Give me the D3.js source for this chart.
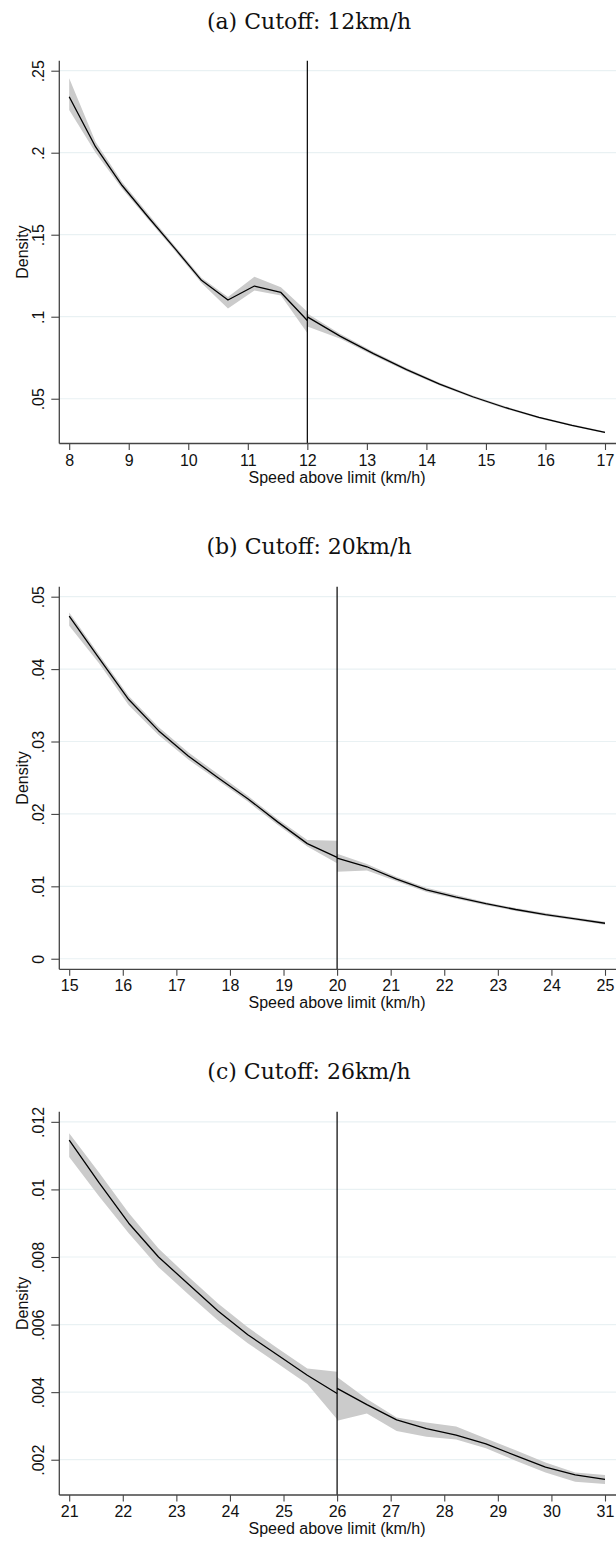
<!DOCTYPE html>
<html><head><meta charset="utf-8">
<script src="https://cdn.jsdelivr.net/npm/d3@7"></script>
<style>body{margin:0;background:#fff} svg{display:block}</style>
</head><body>
<svg id="chart" width="616" height="1541"></svg>
<script>
// ---------- DATA ----------
const titles = ["(a) Cutoff: 12km/h", "(b) Cutoff: 20km/h", "(c) Cutoff: 26km/h"];
const cutoffs = [12, 20, 26];
const xTitle = "Speed above limit (km/h)";
const yTitle = "Density";

// Panel (a)
const xTicksA = [8, 9, 10, 11, 12, 13, 14, 15, 16, 17];
const yTicksA = [0.05, 0.1, 0.15, 0.2, 0.25];
const yTickLabelsA = [".05", ".1", ".15", ".2", ".25"];
const yDomainA = [0.0227, 0.2561];
const xLeftA  = [8, 8.444, 8.889, 9.333, 9.778, 10.222, 10.667, 11.111, 11.556, 12];
const fitLeftA = [0.2341, 0.2035, 0.1800, 0.1605, 0.1415, 0.1222, 0.1102, 0.1187, 0.1148, 0.0977];
const loLeftA  = [0.2260, 0.2000, 0.1780, 0.1590, 0.1400, 0.1205, 0.1050, 0.1160, 0.1130, 0.0900];
const hiLeftA  = [0.2454, 0.2065, 0.1822, 0.1625, 0.1430, 0.1238, 0.1120, 0.1244, 0.1180, 0.1030];
const xRightA  = [12, 12.556, 13.111, 13.667, 14.222, 14.778, 15.333, 15.889, 16.444, 17];
const fitRightA = [0.0999, 0.0880, 0.0775, 0.0677, 0.0589, 0.0512, 0.0445, 0.0386, 0.0338, 0.0295];
const loRightA  = [0.0940, 0.0866, 0.0763, 0.0667, 0.0580, 0.0504, 0.0438, 0.0380, 0.0332, 0.0290];
const hiRightA  = [0.1020, 0.0894, 0.0787, 0.0687, 0.0598, 0.0520, 0.0452, 0.0392, 0.0344, 0.0300];

// Panel (b)
const xTicksB = [15, 16, 17, 18, 19, 20, 21, 22, 23, 24, 25];
const yTicksB = [0, 0.01, 0.02, 0.03, 0.04, 0.05];
const yTickLabelsB = ["0", ".01", ".02", ".03", ".04", ".05"];
const yDomainB = [-0.00146, 0.05138];
const xLeftB  = [15, 15.556, 16.111, 16.667, 17.222, 17.778, 18.333, 18.889, 19.444, 20];
const fitLeftB = [0.0473, 0.0415, 0.0358, 0.0315, 0.0280, 0.0250, 0.0221, 0.0189, 0.0159, 0.0140];
const loLeftB  = [0.0460, 0.0408, 0.0350, 0.0309, 0.0275, 0.0246, 0.0217, 0.0185, 0.0155, 0.0132];
const hiLeftB  = [0.0478, 0.0420, 0.0363, 0.0320, 0.0285, 0.0255, 0.0225, 0.0193, 0.0164, 0.0163];
const xRightB  = [20, 20.556, 21.111, 21.667, 22.222, 22.778, 23.333, 23.889, 24.444, 25];
const fitRightB = [0.0139, 0.0127, 0.0110, 0.0095, 0.0085, 0.0076, 0.0068, 0.0061, 0.0055, 0.0049];
const loRightB  = [0.0120, 0.0122, 0.0107, 0.0092, 0.0083, 0.0074, 0.0066, 0.0059, 0.0053, 0.0047];
const hiRightB  = [0.0145, 0.0131, 0.0113, 0.0098, 0.0088, 0.0078, 0.0070, 0.0063, 0.0057, 0.0051];

// Panel (c)
const xTicksC = [21, 22, 23, 24, 25, 26, 27, 28, 29, 30, 31];
const yTicksC = [0.002, 0.004, 0.006, 0.008, 0.01, 0.012];
const yTickLabelsC = [".002", ".004", ".006", ".008", ".01", ".012"];
const yDomainC = [0.000956, 0.0123];
const xLeftC  = [21, 21.556, 22.111, 22.667, 23.222, 23.778, 24.333, 24.889, 25.444, 26];
const fitLeftC = [0.01146, 0.01020, 0.00900, 0.00800, 0.00720, 0.00640, 0.00570, 0.00510, 0.00450, 0.00396];
const loLeftC  = [0.01096, 0.00980, 0.00870, 0.00770, 0.00690, 0.00612, 0.00545, 0.00485, 0.00424, 0.00320];
const hiLeftC  = [0.01166, 0.01050, 0.00930, 0.00825, 0.00742, 0.00662, 0.00592, 0.00530, 0.00470, 0.00460];
const xRightC  = [26, 26.556, 27.111, 27.667, 28.222, 28.778, 29.333, 29.889, 30.444, 31];
const fitRightC = [0.00411, 0.00363, 0.00318, 0.00292, 0.00273, 0.00247, 0.00212, 0.00178, 0.00155, 0.00142];
const loRightC  = [0.00315, 0.00337, 0.00285, 0.00268, 0.00260, 0.00234, 0.00197, 0.00162, 0.00135, 0.00128];
const hiRightC  = [0.00445, 0.00380, 0.00325, 0.00310, 0.00298, 0.00263, 0.00228, 0.00192, 0.00162, 0.00155];

// ---------- LAYOUT ----------
const W = 616;
const axisX = 59.3;
const xRange = [69.2, 605];
const layouts = [
  {top: 60.7, bottom: 443.5, titleY: 29},
  {top: 586.7, bottom: 969.3, titleY: 554},
  {top: 1111.7, bottom: 1495, titleY: 1078.5}
];

function zip(xs, f, lo, hi) { return xs.map((x, i) => ({x, f: f[i], lo: lo[i], hi: hi[i]})); }

const panels = [
  {title: titles[0], cutoff: cutoffs[0], xTicks: xTicksA, yTicks: yTicksA, yLabels: yTickLabelsA, yDomain: yDomainA,
   left: zip(xLeftA, fitLeftA, loLeftA, hiLeftA), right: zip(xRightA, fitRightA, loRightA, hiRightA)},
  {title: titles[1], cutoff: cutoffs[1], xTicks: xTicksB, yTicks: yTicksB, yLabels: yTickLabelsB, yDomain: yDomainB,
   left: zip(xLeftB, fitLeftB, loLeftB, hiLeftB), right: zip(xRightB, fitRightB, loRightB, hiRightB)},
  {title: titles[2], cutoff: cutoffs[2], xTicks: xTicksC, yTicks: yTicksC, yLabels: yTickLabelsC, yDomain: yDomainC,
   left: zip(xLeftC, fitLeftC, loLeftC, hiLeftC), right: zip(xRightC, fitRightC, loRightC, hiRightC)}
];

const svg = d3.select("#chart");
const sans = "'Liberation Sans', Arial, sans-serif";
const fs = 16;

panels.forEach((p, i) => {
  const L = layouts[i];
  const g = svg.append("g");
  const x = d3.scaleLinear().domain([p.xTicks[0], p.xTicks[p.xTicks.length - 1]]).range(xRange);
  const y = d3.scaleLinear().domain(p.yDomain).range([L.bottom, L.top]);

  // title
  g.append("text").attr("x", 309).attr("y", L.titleY).attr("text-anchor", "middle")
    .attr("font-family", "'DejaVu Serif', serif").attr("font-size", 22).attr("fill", "#111")
    .text(p.title);

  // gridlines
  g.selectAll("line.grid").data(p.yTicks).join("line").attr("class", "grid")
    .attr("x1", axisX).attr("x2", W).attr("y1", d => y(d)).attr("y2", d => y(d))
    .attr("stroke", "#e9f1f3").attr("stroke-width", 1.2);

  // CI bands
  const area = d3.area().x(d => x(d.x)).y0(d => y(d.lo)).y1(d => y(d.hi));
  [p.left, p.right].forEach(seg => {
    g.append("path").datum(seg).attr("d", area).attr("fill", "#cbcbcb").attr("stroke", "none");
  });

  // cutoff line
  g.append("line").attr("x1", x(p.cutoff)).attr("x2", x(p.cutoff))
    .attr("y1", L.top).attr("y2", L.bottom).attr("stroke", "#000").attr("stroke-width", 1.2);

  // fitted lines
  const line = d3.line().x(d => x(d.x)).y(d => y(d.f));
  [p.left, p.right].forEach(seg => {
    g.append("path").datum(seg).attr("d", line).attr("fill", "none")
      .attr("stroke", "#000").attr("stroke-width", 1.3).attr("stroke-linejoin", "round");
  });

  // y axis
  const yAxis = d3.axisLeft(y).tickValues(p.yTicks)
    .tickFormat((d, k) => p.yLabels[k]).tickSize(8).tickSizeOuter(0);
  const ya = g.append("g").attr("transform", `translate(${axisX},0)`).call(yAxis);
  ya.select(".domain").remove();
  ya.selectAll(".tick line").attr("stroke", "#444").attr("stroke-width", 1.1);
  ya.selectAll(".tick text")
    .attr("transform", "rotate(-90)").attr("x", 0).attr("y", -15).attr("dy", 0)
    .attr("text-anchor", "middle").attr("font-family", sans).attr("font-size", fs).attr("fill", "#111");
  g.append("line").attr("x1", axisX).attr("x2", axisX).attr("y1", L.top).attr("y2", L.bottom)
    .attr("stroke", "#444").attr("stroke-width", 1.3);

  // x axis
  const xAxis = d3.axisBottom(x).tickValues(p.xTicks).tickFormat(d3.format("d")).tickSize(6.5).tickSizeOuter(0);
  const xa = g.append("g").attr("transform", `translate(0,${L.bottom})`).call(xAxis);
  xa.select(".domain").remove();
  xa.selectAll(".tick line").attr("stroke", "#444").attr("stroke-width", 1.1);
  xa.selectAll(".tick text").attr("y", 22).attr("dy", 0)
    .attr("font-family", sans).attr("font-size", fs).attr("fill", "#111");
  g.append("line").attr("x1", axisX).attr("x2", W).attr("y1", L.bottom).attr("y2", L.bottom)
    .attr("stroke", "#444").attr("stroke-width", 1.3);

  // axis titles
  g.append("text").attr("x", 337).attr("y", L.bottom + 39).attr("text-anchor", "middle")
    .attr("font-family", sans).attr("font-size", fs).attr("fill", "#111").text(xTitle);
  g.append("text").attr("transform", `translate(28.3,${(L.top + L.bottom) / 2}) rotate(-90)`)
    .attr("text-anchor", "middle").attr("font-family", sans).attr("font-size", fs).attr("fill", "#111").text(yTitle);
});
</script>
</body></html>
